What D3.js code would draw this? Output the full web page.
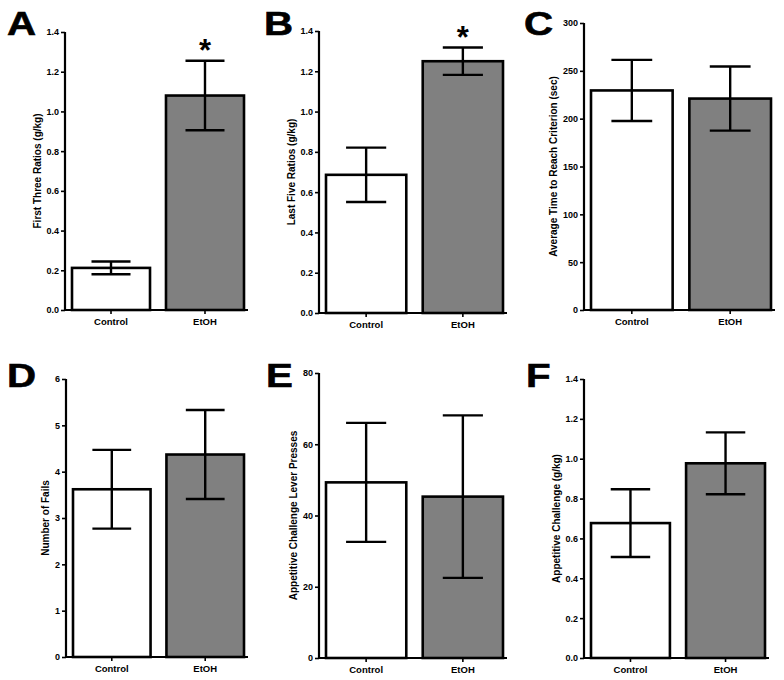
<!DOCTYPE html>
<html>
<head>
<meta charset="utf-8">
<script src="https://cdn.jsdelivr.net/npm/d3@7"></script>
<style>
  html, body { margin: 0; padding: 0; background: #fff; }
  svg { display: block; font-family: "Liberation Sans", Arial, Helvetica, sans-serif; }
</style>
</head>
<body>
<svg id="chart" width="784" height="680"></svg>
<script>
// ---- data ----
const categories = ["Control", "EtOH"];
const panelLetters = ["A", "B", "C", "D", "E", "F"];
const yTitles = [
  "First Three Ratios (g/kg)",
  "Last Five Ratios (g/kg)",
  "Average Time to Reach Criterion (sec)",
  "Number of Fails",
  "Appetitive Challenge Lever Presses",
  "Appetitive Challenge (g/kg)"
];
const meanValues = [
  [0.212, 1.08],
  [0.686, 1.25],
  [229.5, 221],
  [3.62, 4.37],
  [49.3, 45.3],
  [0.677, 0.977]
];
const semValues = [
  [0.032, 0.175],
  [0.135, 0.068],
  [32, 33.5],
  [0.85, 0.96],
  [16.7, 22.8],
  [0.17, 0.155]
];
const yMaxValues = [1.4, 1.4, 300, 6, 80, 1.4];
const yTickSteps = [0.2, 0.2, 50, 1, 20, 0.2];
const yTickDecimals = [1, 1, 0, 0, 0, 1];
const significance = [["", "*"], ["", "*"], ["", ""], ["", ""], ["", ""], ["", ""]];
const barFills = ["#ffffff", "#808080"];

// ---- layout (pixels) ----
const layouts = [
  { x0: 65,  x1: 248, top: 32,  bottom: 310, lx: 7,   ly: 35 },
  { x0: 319, x1: 507, top: 31,  bottom: 313, lx: 264, ly: 35 },
  { x0: 584, x1: 775, top: 23,  bottom: 310, lx: 524, ly: 35 },
  { x0: 66,  x1: 248, top: 379, bottom: 657, lx: 7,   ly: 387 },
  { x0: 319, x1: 507, top: 373, bottom: 658, lx: 266, ly: 387 },
  { x0: 584, x1: 769, top: 379, bottom: 658, lx: 526, ly: 387 }
];

const svg = d3.select("#chart");
const fontFam = '"Liberation Sans", Arial, Helvetica, sans-serif';

layouts.forEach((L, i) => {
  const g = svg.append("g");
  const y = d3.scaleLinear().domain([0, yMaxValues[i]]).range([L.bottom, L.top]);
  const x = d3.scaleBand().domain(categories)
    .range([L.x0 + 7, L.x1 - 4]).paddingInner(0.17).paddingOuter(0);

  // bars
  categories.forEach((c, j) => {
    g.append("rect")
      .attr("x", x(c))
      .attr("y", y(meanValues[i][j]))
      .attr("width", x.bandwidth())
      .attr("height", L.bottom - y(meanValues[i][j]))
      .attr("fill", barFills[j])
      .attr("stroke", "#000")
      .attr("stroke-width", 2.6);
  });

  // error bars
  categories.forEach((c, j) => {
    const cx = x(c) + x.bandwidth() / 2;
    const hi = y(meanValues[i][j] + semValues[i][j]);
    const lo = y(meanValues[i][j] - semValues[i][j]);
    const cw = x.bandwidth() * 0.25;
    const eg = g.append("g").attr("stroke", "#000").attr("stroke-width", 2.4);
    eg.append("line").attr("x1", cx).attr("x2", cx).attr("y1", hi).attr("y2", lo);
    eg.append("line").attr("x1", cx - cw).attr("x2", cx + cw).attr("y1", hi).attr("y2", hi);
    eg.append("line").attr("x1", cx - cw).attr("x2", cx + cw).attr("y1", lo).attr("y2", lo);
    if (significance[i][j]) {
      g.append("text")
        .attr("x", cx)
        .attr("y", hi - 17)
        .attr("text-anchor", "middle")
        .attr("font-size", 31)
        .attr("font-weight", "bold")
        .attr("font-family", fontFam)
        .attr("dy", "0.55em")
        .text(significance[i][j]);
    }
  });

  // y axis
  const ticks = d3.range(0, yMaxValues[i] + yTickSteps[i] / 2, yTickSteps[i]);
  const yAxis = d3.axisLeft(y).tickValues(ticks)
    .tickFormat(d3.format("." + yTickDecimals[i] + "f"))
    .tickSize(4).tickPadding(2).tickSizeOuter(0);
  const ya = g.append("g").attr("transform", `translate(${L.x0},0)`).call(yAxis);
  ya.select(".domain").attr("stroke", "#000").attr("stroke-width", 2.2)
    .attr("d", `M0,${L.top}V${L.bottom + 1}`);
  ya.selectAll(".tick line").attr("stroke", "#000").attr("stroke-width", 1.6);
  ya.selectAll(".tick text").attr("font-size", 9).attr("font-weight", "bold")
    .attr("font-family", fontFam).attr("fill", "#000");

  // x axis
  const xAxis = d3.axisBottom(x).tickSize(4).tickPadding(4).tickSizeOuter(0);
  const xa = g.append("g").attr("transform", `translate(0,${L.bottom})`).call(xAxis);
  xa.select(".domain").attr("stroke", "#000").attr("stroke-width", 2.2)
    .attr("d", `M${L.x0 - 1},0H${L.x1}`);
  xa.selectAll(".tick line").attr("stroke", "#000").attr("stroke-width", 1.6);
  xa.selectAll(".tick text").attr("font-size", 9.5).attr("font-weight", "bold")
    .attr("font-family", fontFam).attr("fill", "#000");

  // y title
  let maxW = 0;
  ya.selectAll(".tick text").each(function () {
    maxW = Math.max(maxW, this.getComputedTextLength());
  });
  const tx = L.x0 - 6 - maxW - 9;
  const ty = (L.top + L.bottom) / 2;
  g.append("text")
    .attr("transform", `translate(${tx},${ty}) rotate(-90)`)
    .attr("text-anchor", "middle")
    .attr("dy", "0.35em")
    .attr("font-size", 10)
    .attr("font-weight", "bold")
    .attr("font-family", fontFam)
    .text(yTitles[i]);

  // panel letter
  g.append("text")
    .attr("transform", `translate(${L.lx},${L.ly}) scale(1.22,1)`)
    .attr("font-size", 33)
    .attr("font-weight", "bold")
    .attr("font-family", fontFam)
    .attr("stroke", "#000")
    .attr("stroke-width", 0.6)
    .text(panelLetters[i]);
});
</script>
</body>
</html>
